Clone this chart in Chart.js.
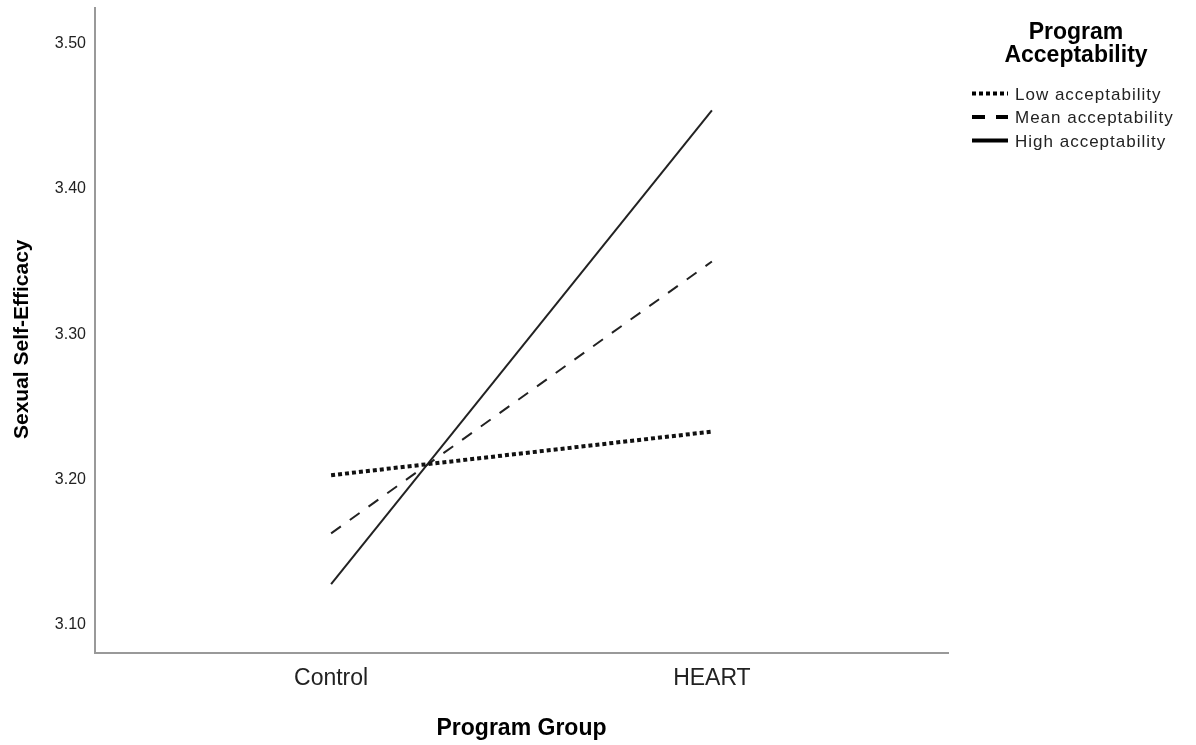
<!DOCTYPE html>
<html>
<head>
<meta charset="utf-8">
<script src="https://cdn.jsdelivr.net/npm/chart.js@4/dist/chart.umd.min.js"></script>
<style>
  body { margin: 0; background: #fff; }
  #wrap { width: 1196px; height: 745px; position: relative; }
</style>
</head>
<body>
<div id="wrap"><canvas id="chart1"></canvas></div>
<script>
// datos
const categories = ['Control', 'HEART'];
const lowAcceptability = [3.203, 3.233];
const meanAcceptability = [3.163, 3.350];
const highAcceptability = [3.128, 3.454];
const yTicks = [3.10, 3.20, 3.30, 3.40, 3.50];

const FONT = '"Liberation Sans", Arial, sans-serif';
const toPoints = arr => arr.map((v, i) => ({ x: i, y: v }));

// leyenda dibujada a la derecha
const sideLegend = {
  id: 'sideLegend',
  afterDraw(chart) {
    const ctx = chart.ctx;
    ctx.save();
    ctx.fillStyle = '#000';
    ctx.font = 'bold 23px ' + FONT;
    ctx.textAlign = 'center';
    ctx.textBaseline = 'middle';
    ctx.fillText('Program', 1076, 33);
    ctx.fillText('Acceptability', 1076, 56);

    ctx.font = '17px ' + FONT;
    ctx.letterSpacing = '1px';
    ctx.textAlign = 'left';
    chart.data.datasets.forEach((ds, i) => {
      const y = 95 + i * 23.5;
      ctx.strokeStyle = '#000';
      ctx.lineWidth = ds.legendWidth;
      ctx.setLineDash(ds.legendDash);
      ctx.beginPath();
      ctx.moveTo(972, y - 1.5);
      ctx.lineTo(1008, y - 1.5);
      ctx.stroke();
      ctx.setLineDash([]);
      ctx.fillStyle = '#222';
      ctx.fillText(ds.label, 1015, y);
    });
    ctx.restore();
  }
};

const chartConfig = {
  type: 'line',
  data: {
    datasets: [{
      label: 'Low acceptability',
      data: toPoints(lowAcceptability),
      borderColor: '#111',
      borderWidth: 4,
      borderDash: [4, 3],
      legendWidth: 4,
      legendDash: [4, 3],
      pointRadius: 0
    }, {
      label: 'Mean acceptability',
      data: toPoints(meanAcceptability),
      borderColor: '#222',
      borderWidth: 2,
      borderDash: [12, 11],
      legendWidth: 4,
      legendDash: [13, 11],
      pointRadius: 0
    }, {
      label: 'High acceptability',
      data: toPoints(highAcceptability),
      borderColor: '#222',
      borderWidth: 2,
      borderDash: [],
      legendWidth: 4,
      legendDash: [],
      pointRadius: 0
    }]
  },
  options: {
    responsive: true,
    maintainAspectRatio: false,
    animation: false,
    layout: { padding: { top: 8, right: 248, left: 0, bottom: 0 } },
    plugins: {
      legend: { display: false },
      tooltip: { enabled: false }
    },
    scales: {
      x: {
        type: 'linear',
        min: -0.62,
        max: 1.62,
        grid: { display: false, drawTicks: false },
        border: { display: true, color: '#999', width: 2 },
        afterBuildTicks: scale => { scale.ticks = categories.map((c, i) => ({ value: i })); },
        afterFit: scale => { scale.height = 92; },
        ticks: {
          padding: 12,
          color: '#222',
          font: { family: FONT, size: 23 },
          callback: v => categories[v]
        },
        title: {
          display: true,
          text: 'Program Group',
          color: '#000',
          padding: { top: 0, bottom: 3 },
          font: { family: FONT, size: 23, weight: 'bold' }
        }
      },
      y: {
        min: 3.0807,
        max: 3.5244,
        grid: { display: false, drawTicks: false },
        border: { display: true, color: '#999', width: 2 },
        afterBuildTicks: scale => { scale.ticks = yTicks.map(v => ({ value: v })); },
        afterFit: scale => {
          scale.width = 95;
          // sin margen extra arriba por las etiquetas
          scale.paddingTop = 0;
          scale.paddingBottom = 0;
        },
        ticks: {
          padding: 9,
          color: '#222',
          font: { family: FONT, size: 16 },
          callback: v => v.toFixed(2)
        },
        title: {
          display: true,
          text: 'Sexual Self-Efficacy\u00a0\u00a0\u00a0',
          color: '#000',
          padding: { top: 10, bottom: 0 },
          font: { family: FONT, size: 21, weight: 'bold' }
        }
      }
    }
  },
  plugins: [sideLegend]
};

new Chart(document.getElementById('chart1'), chartConfig);
</script>
</body>
</html>
